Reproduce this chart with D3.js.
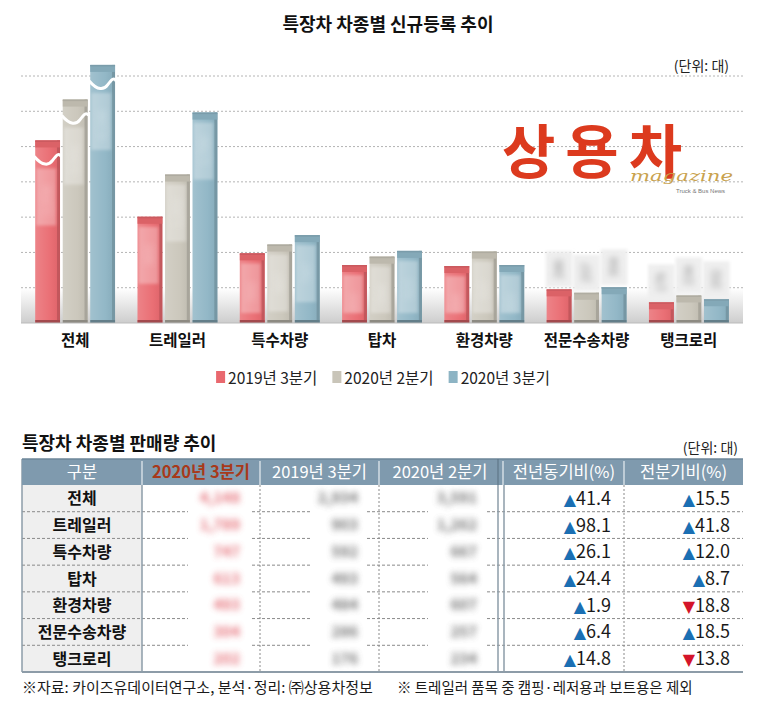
<!DOCTYPE html>
<html><head><meta charset="utf-8">
<script src="https://cdn.jsdelivr.net/npm/d3@7"></script>
<style>
html,body{margin:0;padding:0;background:#fff;}
svg{display:block;font-family:"Noto Sans CJK KR","Noto Sans",sans-serif;}
</style></head>
<body>
<script>
// ---------- data ----------
const categories = ["전체","트레일러","특수차량","탑차","환경차량","전문수송차량","탱크로리"];
const seriesNames = ["2019년 3분기","2020년 2분기","2020년 3분기"];
const v2019Q3 = [2934, 903, 592, 493, 484, 286, 176];
const v2020Q2 = [3591, 1262, 667, 564, 607, 257, 234];
const v2020Q3 = [4148, 1789, 747, 613, 493, 304, 202];
const yoyPct = [41.4, 98.1, 26.1, 24.4, 1.9, 6.4, 14.8];
const qoqPct = [15.5, 41.8, 12.0, 8.7, -18.8, 18.5, -13.8];
const gridValues = [300, 600, 900, 1200, 1500, 1800, 2100];
const tableHeaders = ["구분","2020년 3분기","2019년 3분기","2020년 2분기","전년동기비(%)","전분기비(%)"];
const seriesColors = ["#e9686e","#c9c5b9","#8db4c4"];
const brokenCategories = ["전체"];
const labelsAbove = ["전문수송차량","탱크로리"];

(function(){
const W = 770, H = 701;
const svg = d3.select("body").append("svg").attr("width", W).attr("height", H);
const defs = svg.append("defs");
defs.append("filter").attr("id","blur").attr("x","-50%").attr("y","-50%").attr("width","200%").attr("height","200%")
  .append("feGaussianBlur").attr("stdDeviation", 3);
defs.append("filter").attr("id","blur2").attr("x","-50%").attr("y","-50%").attr("width","200%").attr("height","200%")
  .append("feGaussianBlur").attr("stdDeviation", 1.6);
const fg = defs.append("linearGradient").attr("id","floor").attr("x1",0).attr("x2",0).attr("y1",0).attr("y2",1);
fg.append("stop").attr("offset","0%").attr("stop-color","#ffffff");
fg.append("stop").attr("offset","100%").attr("stop-color","#cdcdcd");
const gl = defs.append("linearGradient").attr("id","gloss").attr("x1",0).attr("x2",1).attr("y1",0).attr("y2",0);
gl.append("stop").attr("offset","0%").attr("stop-color","#fff").attr("stop-opacity",0.18);
gl.append("stop").attr("offset","60%").attr("stop-color","#fff").attr("stop-opacity",0.05);
gl.append("stop").attr("offset","100%").attr("stop-color","#000").attr("stop-opacity",0.05);

// ---------- title ----------
svg.append("text").attr("x", 388).attr("y", 31).attr("text-anchor","middle")
  .attr("font-size", 18).attr("font-weight", 700).attr("fill","#111").text("특장차 차종별 신규등록 추이");
svg.append("text").attr("x", 729).attr("y", 71).attr("text-anchor","end")
  .attr("font-size", 14).attr("fill","#222").text("(단위: 대)");

// ---------- scales ----------
const plotLeft = 21, plotRight = 743, base = 323, plotTop = 76;
const x0 = d3.scaleBand().domain(categories).range([24, 740]).paddingInner(0.22).paddingOuter(0.11);
const x1 = d3.scaleBand().domain(seriesNames).range([0, x0.bandwidth()]).paddingInner(0.1).paddingOuter(0);
const y = d3.scaleLinear().domain([0, 2100]).range([base, plotTop]);
const yTotal = d3.scaleLinear().domain([0, 3970]).range([base, plotTop]);

// floor gradient
svg.append("rect").attr("x", plotLeft).attr("y", 288).attr("width", plotRight - plotLeft).attr("height", base - 288)
  .attr("fill","url(#floor)");

// grid
svg.append("g").selectAll("line").data(gridValues).join("line")
  .attr("x1", plotLeft).attr("x2", plotRight).attr("y1", d => y(d)).attr("y2", d => y(d))
  .attr("stroke","#b4b4b4").attr("stroke-width",1).attr("stroke-dasharray","2,2");

// logo
svg.append("text").attr("x", 502).attr("y", 173).attr("font-size", 58).attr("font-weight", 700)
  .attr("letter-spacing", 10).attr("fill","#dc3a1e").text("상용차");
svg.append("text").attr("x", 630).attr("y", 181).attr("font-family","DejaVu Serif")
  .attr("font-style","italic").attr("font-size", 15).attr("fill","#c9a24e")
  .attr("textLength", 103).attr("lengthAdjust","spacingAndGlyphs").text("magazine");
svg.append("text").attr("x", 676).attr("y", 193).attr("font-family","Liberation Sans")
  .attr("font-size", 6).attr("fill","#777").text("Truck & Bus News");

// ---------- bars ----------
const seriesValues = [v2019Q3, v2020Q2, v2020Q3];
const barData = [];
categories.forEach((c, i) => {
  seriesNames.forEach((s, j) => {
    barData.push({cat: c, ser: s, si: j, value: seriesValues[j][i]});
  });
});
const bars = svg.append("g").selectAll("g").data(barData).join("g")
  .attr("transform", d => `translate(${x0(d.cat) + x1(d.ser)},0)`);
const bw = x1.bandwidth();
const sc = d => brokenCategories.includes(d.cat) ? yTotal : y;
bars.append("rect").attr("x",0).attr("y", d => sc(d)(d.value)).attr("width", bw)
  .attr("height", d => base - sc(d)(d.value)).attr("fill", d => seriesColors[d.si]);
bars.append("rect").attr("x",0).attr("y", d => sc(d)(d.value)).attr("width", bw)
  .attr("height", d => base - sc(d)(d.value)).attr("fill", "url(#gloss)");
// right edge
bars.append("rect").attr("x", bw - 3).attr("y", d => sc(d)(d.value)).attr("width", 3)
  .attr("height", d => base - sc(d)(d.value)).attr("fill", d => d3.color(seriesColors[d.si]).darker(0.5));
// top cap
bars.append("rect").attr("x",0).attr("y", d => sc(d)(d.value)).attr("width", bw).attr("height", 7)
  .attr("fill", d => d3.color(seriesColors[d.si]).darker(0.18));
bars.append("rect").attr("x",0).attr("y", d => sc(d)(d.value)).attr("width", bw).attr("height", 1.5)
  .attr("fill", d => d3.color(seriesColors[d.si]).darker(0.4));
// bottom edge
bars.append("rect").attr("x",0).attr("y", base - 3).attr("width", bw).attr("height", 3)
  .attr("fill", d => d3.color(seriesColors[d.si]).darker(1.0));

// blurred value labels inside bars
const inside = bars.filter(d => !labelsAbove.includes(d.cat));
inside.append("rect")
  .attr("x", 1).attr("width", bw - 5)
  .attr("y", d => sc(d)(d.value) + (brokenCategories.includes(d.cat) ? 28 : 10))
  .attr("height", d => Math.min(57, base - sc(d)(d.value) - (brokenCategories.includes(d.cat) ? 28 : 10) - 10))
  .attr("fill","#fff").attr("opacity",0.3).attr("filter","url(#blur2)");
inside.append("text")
  .attr("transform", d => `translate(${bw/2 + 4},${sc(d)(d.value) + (brokenCategories.includes(d.cat) ? 60 : 38)}) rotate(-90)`)
  .attr("text-anchor","middle").attr("font-size", 12).attr("fill","#fff").attr("opacity",0.35)
  .attr("filter","url(#blur)").text(d => d3.format(",")(d.value));

// blurred labels above short bars
const above = bars.filter(d => labelsAbove.includes(d.cat));
above.append("rect").attr("x", -1).attr("width", bw + 2)
  .attr("y", d => sc(d)(d.value) - 38).attr("height", 36)
  .attr("fill","#efefef").attr("filter","url(#blur2)");
above.append("text")
  .attr("transform", d => `translate(${bw/2 + 4},${sc(d)(d.value) - 20}) rotate(-90)`)
  .attr("text-anchor","middle").attr("font-size", 12).attr("fill","#888")
  .attr("filter","url(#blur)").text(d => d3.format(",")(d.value));

// break marks on broken bars
bars.filter(d => brokenCategories.includes(d.cat)).append("path")
  .attr("d", d => {
    const yy = sc(d)(d.value) + 18;
    return `M-1,${yy - 2} C${bw*0.3},${yy + 8} ${bw*0.55},${yy + 7} ${bw*0.7},${yy + 2} S${bw*0.95},${yy - 6} ${bw+1},${yy - 2}`;
  })
  .attr("fill","none").attr("stroke","#fff").attr("stroke-width",3);

// baseline
svg.append("line").attr("x1", plotLeft).attr("x2", plotRight).attr("y1", base).attr("y2", base)
  .attr("stroke","#bbb").attr("stroke-width",1);

// category axis labels
svg.append("g").selectAll("text").data(categories).join("text")
  .attr("x", d => x0(d) + x0.bandwidth()/2).attr("y", 346).attr("text-anchor","middle")
  .attr("font-size", 15.5).attr("font-weight", 700).attr("fill","#111").text(d => d);

// legend
const lg = svg.append("g");
let lx = 0;
seriesNames.forEach((s, i) => {
  const g = lg.append("g");
  g.append("rect").attr("x", 0).attr("y", 371).attr("width", 9).attr("height", 12).attr("fill", seriesColors[i]);
  const t = g.append("text").attr("x", 12).attr("y", 384).attr("font-size", 15.5).attr("fill","#222").text(s);
  const w = 12 + t.node().getComputedTextLength();
  g.attr("transform", `translate(${lx},0)`);
  lx += w + 15;
});
lg.attr("transform", `translate(${383 - (lx - 15)/2},0)`);

// ---------- table ----------
svg.append("text").attr("x", 22).attr("y", 450).attr("font-size", 18).attr("font-weight", 700)
  .attr("fill","#111").text("특장차 차종별 판매량 추이");
svg.append("text").attr("x", 738).attr("y", 453).attr("text-anchor","end")
  .attr("font-size", 14).attr("fill","#222").text("(단위: 대)");

const colEdges = [22, 142, 260, 379, 501, 624, 743];
const headTop = 459, headBot = 485, tableBot = 672;
const rowY = d3.scaleBand().domain(categories).range([headBot, tableBot]);

// left column background
svg.append("rect").attr("x", colEdges[0]).attr("y", headBot).attr("width", colEdges[1]-colEdges[0])
  .attr("height", tableBot - headBot).attr("fill","#efefef");

// row dotted lines
svg.append("g").selectAll("line").data(categories.slice(1)).join("line")
  .attr("x1", colEdges[0]).attr("x2", colEdges[6]).attr("y1", d => rowY(d)).attr("y2", d => rowY(d))
  .attr("stroke","#8a8a8a").attr("stroke-width",1).attr("stroke-dasharray","3,2");
// dotted vertical lines
svg.append("g").selectAll("line").data([colEdges[2], colEdges[3], colEdges[5]]).join("line")
  .attr("x1", d => d).attr("x2", d => d).attr("y1", headBot).attr("y2", tableBot)
  .attr("stroke","#8a8a8a").attr("stroke-width",1).attr("stroke-dasharray","2,2");

// white blur patches over number columns
const patches = [[188, 252], [312, 367], [428, 485]];
svg.append("g").selectAll("rect").data(patches).join("rect")
  .attr("x", d => d[0]).attr("width", d => d[1]-d[0]).attr("y", headBot + 5).attr("height", tableBot - headBot - 8)
  .attr("fill","#fff");

// solid lines
svg.append("line").attr("x1", colEdges[0]).attr("x2", colEdges[0]).attr("y1", headTop).attr("y2", tableBot)
  .attr("stroke","#8d9ca8").attr("stroke-width",1.5);
svg.append("line").attr("x1", colEdges[1]).attr("x2", colEdges[1]).attr("y1", headBot).attr("y2", tableBot)
  .attr("stroke","#8d9ca8").attr("stroke-width",1.5);
svg.append("line").attr("x1", 498).attr("x2", 498).attr("y1", headTop).attr("y2", tableBot)
  .attr("stroke","#8d9ca8").attr("stroke-width",1.5);
svg.append("line").attr("x1", 504).attr("x2", 504).attr("y1", headBot).attr("y2", tableBot)
  .attr("stroke","#8d9ca8").attr("stroke-width",1.5);
svg.append("line").attr("x1", colEdges[0]).attr("x2", colEdges[6]).attr("y1", tableBot).attr("y2", tableBot)
  .attr("stroke","#8d9ca8").attr("stroke-width",2);

// header
svg.append("rect").attr("x", colEdges[0]).attr("y", headTop).attr("width", colEdges[6]-colEdges[0])
  .attr("height", headBot - headTop).attr("fill","#7f9aae");
svg.append("line").attr("x1", colEdges[0]).attr("x2", colEdges[6]).attr("y1", headTop).attr("y2", headTop)
  .attr("stroke","#6d8699").attr("stroke-width",1.5);
svg.append("g").selectAll("line").data([colEdges[1], colEdges[2], colEdges[3], 503, colEdges[5]]).join("line")
  .attr("x1", d => d).attr("x2", d => d).attr("y1", headTop + 2).attr("y2", headBot)
  .attr("stroke","#e8eef2").attr("stroke-width",1.2);
svg.append("line").attr("x1", 498).attr("x2", 498).attr("y1", headTop).attr("y2", headBot)
  .attr("stroke","#5f7788").attr("stroke-width",1.2);
svg.append("g").selectAll("text").data(tableHeaders).join("text")
  .attr("x", (d, i) => i === 4 ? (504 + colEdges[5])/2 : (colEdges[i] + colEdges[i+1])/2)
  .attr("y", headBot - 7).attr("text-anchor","middle")
  .attr("font-size", 16.5).attr("font-weight", (d, i) => i === 1 ? 700 : 400)
  .attr("fill", (d, i) => i === 1 ? "#a8391a" : "#fff").text(d => d);

// row labels
svg.append("g").selectAll("text").data(categories).join("text")
  .attr("x", (colEdges[0] + colEdges[1])/2).attr("y", d => rowY(d) + rowY.bandwidth()/2 + 6)
  .attr("text-anchor","middle").attr("font-size", 16).attr("font-weight", 700).attr("fill","#111").text(d => d);

// blurred number columns
const numCols = [{vals: v2020Q3, xEnd: 240, color: "#e0505a"}, {vals: v2019Q3, xEnd: 358, color: "#555"}, {vals: v2020Q2, xEnd: 477, color: "#555"}];
numCols.forEach(col => {
  svg.append("g").selectAll("text").data(categories).join("text")
    .attr("x", col.xEnd).attr("y", (d) => rowY(d) + rowY.bandwidth()/2 + 5)
    .attr("text-anchor","end").attr("font-size", 15).attr("font-weight", 700)
    .attr("fill", col.color).attr("opacity", 0.8).attr("filter","url(#blur)")
    .text((d, i) => d3.format(",")(col.vals[i]));
});

// percent columns
function pctCell(sel, vals, xEnd) {
  const t = sel.append("g").selectAll("text").data(categories).join("text")
    .attr("x", xEnd).attr("y", d => rowY(d) + rowY.bandwidth()/2 + 6.5)
    .attr("text-anchor","end").attr("font-size", 18).attr("fill","#1a1a1a");
  t.append("tspan").attr("font-family","DejaVu Sans").attr("font-size", 16)
    .attr("fill", (d, i) => vals[i] < 0 ? "#d4142a" : "#1b6fb3")
    .text((d, i) => vals[i] < 0 ? "▼" : "▲");
  t.append("tspan").text((d, i) => Math.abs(vals[i]).toFixed(1));
}
pctCell(svg, yoyPct, 611);
pctCell(svg, qoqPct, 730);

// footnotes
svg.append("text").attr("x", 22).attr("y", 693).attr("font-size", 15).attr("fill","#1a1a1a")
  .text("※자료: 카이즈유데이터연구소, 분석·정리: ㈜상용차정보");
svg.append("text").attr("x", 397).attr("y", 693).attr("font-size", 14.5).attr("fill","#1a1a1a")
  .text("※ 트레일러 품목 중 캠핑·레저용과 보트용은 제외");
})();
</script>
</body></html>
